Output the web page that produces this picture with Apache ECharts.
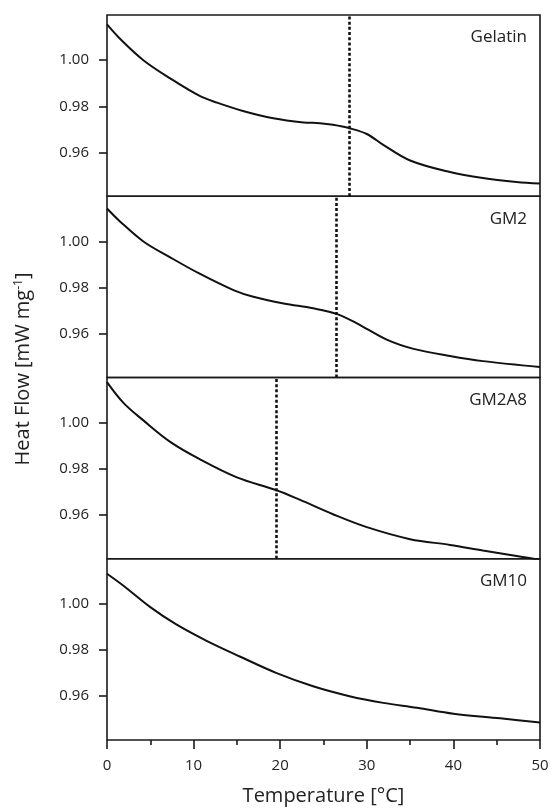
<!DOCTYPE html>
<html>
<head>
<meta charset="utf-8">
<script src="https://cdn.jsdelivr.net/npm/echarts@6/dist/echarts.min.js"></script>
<style>html,body{margin:0;padding:0;background:#fff}#c{width:553px;height:810px}</style>
</head>
<body>
<div id="c"></div>
<script>
const panelNames = ['Gelatin', 'GM2', 'GM2A8', 'GM10'];
const transitionT = [28, 26.5, 19.5, null];
const yTicks = [0.96, 0.98, 1.00];
const xTicks = [0, 10, 20, 30, 40, 50];

const gelatinT  = [0, 1.5, 4.2, 7.3, 10.7, 12.7, 15.7, 19.2, 22.7, 24.6, 26.1, 28.0, 30.0, 31.9, 35.0, 39.6, 43.4, 47.3, 50];
const gelatinHF = [1.0155, 1.0093, 1.000, 0.9921, 0.9845, 0.9816, 0.9780, 0.9748, 0.9730, 0.9727, 0.9720, 0.9705, 0.9680, 0.9633, 0.9565, 0.9515, 0.9489, 0.9472, 0.9465];

const gm2T  = [0, 1.5, 4.2, 7.3, 10.7, 14.6, 16.9, 20.4, 23.8, 26.5, 28.8, 32.3, 35.4, 39.6, 43.4, 50];
const gm2HF = [1.0143, 1.0087, 1.000, 0.9931, 0.9860, 0.9789, 0.9760, 0.9731, 0.9710, 0.9686, 0.9646, 0.9574, 0.9534, 0.9503, 0.9481, 0.9456];

const gm2a8T  = [0, 1.9, 4.2, 7.3, 10.7, 15.0, 19.5, 22.3, 26.1, 30.0, 35.0, 39.6, 43.4, 48.0, 50];
const gm2a8HF = [1.0176, 1.0086, 1.001, 0.9917, 0.9842, 0.9763, 0.9708, 0.9665, 0.9603, 0.9547, 0.9495, 0.9470, 0.9446, 0.9418, 0.9405];

const gm10T  = [0, 1.9, 5.0, 8.0, 11.5, 15.4, 19.6, 23.8, 28.0, 31.9, 35.8, 40.0, 45.4, 50];
const gm10HF = [1.0131, 1.0079, 0.9986, 0.9911, 0.9840, 0.9771, 0.9700, 0.9643, 0.9600, 0.9571, 0.9550, 0.9524, 0.9504, 0.9486];

const seriesT = [gelatinT, gm2T, gm2a8T, gm10T];
const seriesHF = [gelatinHF, gm2HF, gm2a8HF, gm10HF];

const chart = echarts.init(document.getElementById('c'));
const FONT = '"Open Sans", sans-serif';
const TXT = '#222';
const top0 = 15, ph = 181.25;

const grids = [], xAxes = [], yAxes = [], series = [], titles = [];
for (let i = 0; i < 4; i++) {
  const last = i === 3;
  grids.push({left: 107, width: 433, top: top0 + i * ph, height: ph, show: true, borderColor: '#1a1a1a', borderWidth: 1.6, containLabel: false});
  xAxes.push({
    type: 'value', gridIndex: i, min: 0, max: 50, interval: 10,
    axisLine: {show: false},
    splitLine: {show: false},
    axisTick: {show: last, length: 9, lineStyle: {color: '#1a1a1a', width: 1.6}},
    minorTick: {show: last, splitNumber: 2, length: 5, lineStyle: {color: '#1a1a1a', width: 1.6}},
    axisLabel: {show: last, margin: 18, fontFamily: FONT, fontSize: 15, color: TXT},
    name: last ? 'Temperature [°C]' : '', nameLocation: 'middle', nameGap: 46,
    nameTextStyle: {fontFamily: FONT, fontSize: 20, color: TXT}
  });
  yAxes.push({
    type: 'value', gridIndex: i, min: 0.941, max: 1.0196,
    axisLine: {show: false},
    splitLine: {show: false},
    axisTick: {show: true, length: 8, customValues: yTicks, lineStyle: {color: '#1a1a1a', width: 1.6}},
    axisLabel: {show: true, margin: 18, customValues: yTicks, fontFamily: FONT, fontSize: 15, color: TXT,
      formatter: v => v.toFixed(2)}
  });
  const data = seriesT[i].map((t, k) => [t, seriesHF[i][k]]);
  const s = {
    type: 'line', xAxisIndex: i, yAxisIndex: i, data: data,
    smooth: 0.35, showSymbol: false, symbol: 'none',
    lineStyle: {color: '#111', width: 2}, clip: true, silent: true
  };
  if (transitionT[i] !== null) {
    s.markLine = {
      silent: true, symbol: ['none', 'none'], label: {show: false},
      lineStyle: {color: '#111', width: 2.6, type: [3, 2.2]},
      data: [{xAxis: transitionT[i]}]
    };
  }
  series.push(s);
  titles.push({text: panelNames[i], right: 21, top: top0 + i * ph + 9,
    textStyle: {fontFamily: FONT, fontSize: 17, fontWeight: 'normal', color: TXT}});
}

chart.setOption({
  animation: false,
  title: titles,
  grid: grids, xAxis: xAxes, yAxis: yAxes, series: series,
  graphic: [{
    type: 'text', x: 23, y: 369, rotation: Math.PI / 2,
    style: {
      text: 'Heat Flow [mW mg{sup|-1}]', rich: {sup: {fontSize: 12, verticalAlign: 'top', fontFamily: FONT, fill: TXT, padding: [0,0,9,0]}},
      fontFamily: FONT, fontSize: 20, fill: TXT, align: 'center', verticalAlign: 'middle'
    }
  }]
});
</script>
</body>
</html>
